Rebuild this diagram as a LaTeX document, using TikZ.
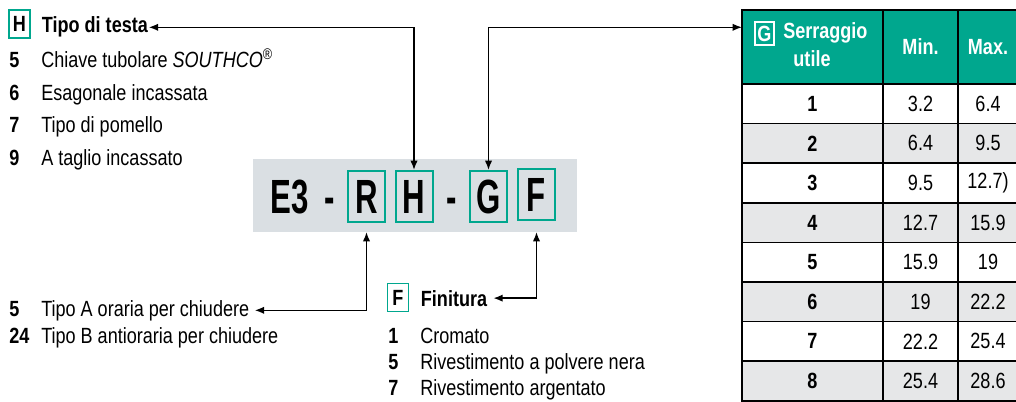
\documentclass[tikz,border=0pt]{standalone}
\usepackage{fontspec}
\setmainfont[FakeStretch=0.82]{Liberation Sans}
\newfontfamily\codefont[FakeStretch=0.65]{Liberation Sans}
\usepackage{tikz}
\usetikzlibrary{arrows.meta,positioning}
\usepackage{xcolor}
\definecolor{svTeal}{HTML}{00A78E}
\definecolor{svCode}{HTML}{DADFE3}
\definecolor{svRow}{HTML}{E6E7E8}
\newcommand{\txtsize}{\fontsize{16.5pt}{19pt}\selectfont}
\newcommand{\codesize}{\codefont\fontsize{36pt}{38pt}\selectfont\bfseries}
\tikzset{
    % key letters and the code strip
    keybox/.style={draw=svTeal,line width=1.2pt,minimum width=15.75pt,minimum height=21pt,inner sep=0pt,font=\txtsize\bfseries},
    codebox/.style={draw=svTeal,line width=1.5pt,minimum width=27.75pt,minimum height=38.25pt,inner sep=0pt,font=\codesize},
    codetxt/.style={anchor=base,inner sep=0pt,font=\codesize},
    % option lists
    title/.style={anchor=base west,inner sep=0.5pt,font=\txtsize\bfseries},
    num/.style={anchor=base west,inner sep=0pt,font=\txtsize\bfseries},
    item/.style={anchor=base west,inner sep=0pt,font=\txtsize},
    % table cells
    cell/.style={draw=black,line width=1.1pt,minimum height=29.7pt,inner sep=0pt,outer sep=0pt,font=\txtsize},
    hdrcell/.style={cell,fill=svTeal,minimum height=55.5pt,text=white,font=\txtsize\bfseries},
    numcell/.style={cell,minimum width=105.75pt,font=\txtsize\bfseries},
    valcell/.style={cell,minimum width=56.25pt},
    maxcell/.style={cell,minimum width=45pt},
    grayrow/.style={fill=svRow},
    whiterow/.style={fill=white},
    link/.style={<->,line width=1.1pt,>={Latex[length=7pt,width=5.5pt]}}
}

\begin{document}
\begin{tikzpicture}[x=0.75pt,y=-0.75pt,font=\txtsize]
  \useasboundingbox (0,0) rectangle (1016,402);

  % Code strip
  \node[fill=svCode,minimum width=243pt,minimum height=54.75pt,inner sep=0pt,outer sep=0pt] (code) at (415,195.5) {};
  \node[codetxt] (e3) at (290,214) {E3};
  \node[codetxt] (dash1) at (330,214) {-};
  \node[codebox] (cR) at (366.5,196.5) {R};
  \node[codebox] (cH) at (414,196.5) {H};
  \node[codetxt] (dash2) at (452,214) {-};
  \node[codebox] (cG) at (488.5,196.5) {G};
  \node[codebox] (cF) at (536.5,195) {F};

  % Tipo di testa
  \node[keybox] (hkey) at (19.5,24) {H};
  \node[title] (testa) at (41,33) {Tipo di testa};
  \node[num] (h5n) at (9,68) {5};
  \node[item] (h5) at (41,68) {Chiave tubolare \textit{SOUTHCO}\textsuperscript{®}};
  \node[num] (h6n) at (9,101) {6};
  \node[item] (h6) at (41,101) {Esagonale incassata};
  \node[num] (h7n) at (9,133) {7};
  \node[item] (h7) at (41,133) {Tipo di pomello};
  \node[num] (h9n) at (9,166) {9};
  \node[item] (h9) at (41,166) {A taglio incassato};

  % Rotazione
  \node[num] (r5n) at (9,316) {5};
  \node[item] (tipoA) at (41,316) {Tipo A oraria per chiudere};
  \node[num] (r24n) at (9,343) {24};
  \node[item] (tipoB) at (41,343) {Tipo B antioraria per chiudere};

  % Finitura
  \node[keybox] (fkey) at (398,297.5) {F};
  \node[title] (fin) at (420,306) {Finitura};
  \node[num] (f1n) at (388,343) {1};
  \node[item] (f1) at (420,343) {Cromato};
  \node[num] (f5n) at (388,369) {5};
  \node[item] (f5) at (420,369) {Rivestimento a polvere nera};
  \node[num] (f7n) at (388,395) {7};
  \node[item] (f7) at (420,395) {Rivestimento argentato};

  % Serraggio table
  \node[hdrcell,minimum width=105.75pt] (hd0) at (812.5,47) {};
  \node[hdrcell,minimum width=56.25pt,right=0pt of hd0] (hd1) {Min.};
  \node[hdrcell,minimum width=45pt,right=0pt of hd1] (hd2) {Max.};
  \node[keybox,draw=white,text=white,line width=1pt,minimum width=14.25pt,minimum height=17.25pt] (gkey) at (764.5,33.5) {G};
  \node[anchor=base west,inner sep=0pt,text=white,font=\txtsize\bfseries] (serr) at (783,39) {Serraggio};
  \node[anchor=base,inner sep=0pt,text=white,font=\txtsize\bfseries] (utile) at (812,67) {utile};

  \node[numcell,whiterow,below=0pt of hd0] (r1) {1};
  \node[valcell,whiterow,right=0pt of r1] (r1min) {3.2};
  \node[maxcell,whiterow,right=0pt of r1min] (r1max) {6.4};
  \node[numcell,grayrow,below=0pt of r1] (r2) {2};
  \node[valcell,grayrow,right=0pt of r2] (r2min) {6.4};
  \node[maxcell,grayrow,right=0pt of r2min] (r2max) {9.5};
  \node[numcell,whiterow,below=0pt of r2] (r3) {3};
  \node[valcell,whiterow,right=0pt of r3] (r3min) {9.5};
  \node[maxcell,whiterow,right=0pt of r3min] (r3max) {12.7)};
  \node[numcell,grayrow,below=0pt of r3] (r4) {4};
  \node[valcell,grayrow,right=0pt of r4] (r4min) {12.7};
  \node[maxcell,grayrow,right=0pt of r4min] (r4max) {15.9};
  \node[numcell,whiterow,below=0pt of r4] (r5) {5};
  \node[valcell,whiterow,right=0pt of r5] (r5min) {15.9};
  \node[maxcell,whiterow,right=0pt of r5min] (r5max) {19};
  \node[numcell,grayrow,below=0pt of r5] (r6) {6};
  \node[valcell,grayrow,right=0pt of r6] (r6min) {19};
  \node[maxcell,grayrow,right=0pt of r6min] (r6max) {22.2};
  \node[numcell,whiterow,below=0pt of r6] (r7) {7};
  \node[valcell,whiterow,right=0pt of r7] (r7min) {22.2};
  \node[maxcell,whiterow,right=0pt of r7min] (r7max) {25.4};
  \node[numcell,grayrow,below=0pt of r7] (r8) {8};
  \node[valcell,grayrow,right=0pt of r8] (r8min) {25.4};
  \node[maxcell,grayrow,right=0pt of r8min] (r8max) {28.6};

  % Connectors
  \coordinate (gin) at (hd0.west |- testa.east);
  \draw[link] (testa.east) -| (cH.north);
  \draw[link] (cG.north) |- (gin);
  \draw[link,shorten <=4pt] (tipoA.east) -| (code.south -| cR);
  \draw[link,shorten <=4pt] (fin.east) -| (code.south -| cF);
\end{tikzpicture}
\end{document}
